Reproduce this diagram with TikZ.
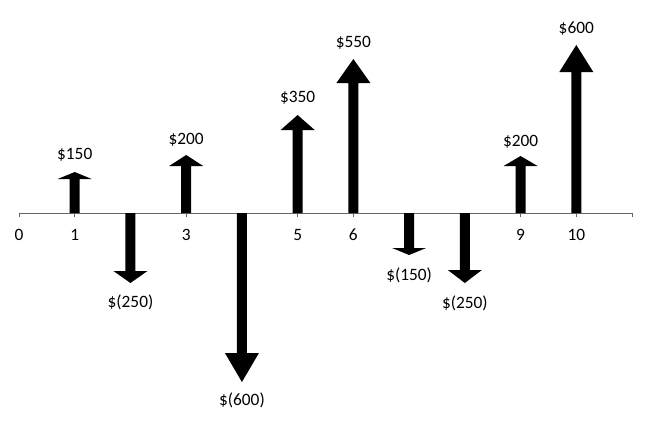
\documentclass[tikz,border=0pt]{standalone}
\usepackage{fontspec}
\setmainfont{Carlito}
\begin{document}
\begin{tikzpicture}[x=0.75pt,y=-0.75pt,
  axisline/.style={draw=gray!80!black,line width=0.75pt},
  flow/.style={fill=black},
  lbl/.style={inner sep=0pt,font=\fontsize{13pt}{15pt}\selectfont}]
\useasboundingbox[fill=white] (0,0) rectangle (652,440);
% axis
\draw[axisline] (19,213) coordinate (a0) -- (632,213) coordinate (a11);
\foreach \i in {0,...,11}{
  \draw[axisline] ({19+55.73*\i},213) -- ({19+55.73*\i},217);
}
% axis labels
\foreach \i in {0,1,3,5,6,9,10}{
  \node[lbl] (t\i) at ({19+55.73*\i},235) {\i};
}
% arrows: index / tip y / head height
\foreach \i/\tip/\hh in {1/172/7,2/283/12,3/155/11,4/382/29,5/115/15,6/59/24,7/255/7,8/283/13,9/156/10,10/45/27}{
  \pgfmathsetmacro{\px}{19+55.73*\i}
  \pgfmathsetmacro{\bs}{\tip<213 ? \tip+\hh : \tip-\hh}
  \fill[flow] (\px-5,213) -- (\px-5,\bs) -- (\px-17,\bs) -- (\px,\tip) -- (\px+17,\bs) -- (\px+5,\bs) -- (\px+5,213) -- cycle;
}
% value labels
\node[lbl] (v1) at ({19+55.73*1},155) {\$150};
\node[lbl] (v2) at ({19+55.73*2},302) {\$(250)};
\node[lbl] (v3) at ({19+55.73*3},140) {\$200};
\node[lbl] (v4) at ({19+55.73*4},400) {\$(600)};
\node[lbl] (v5) at ({19+55.73*5},98) {\$350};
\node[lbl] (v6) at ({19+55.73*6},43) {\$550};
\node[lbl] (v7) at ({19+55.73*7},275) {\$(150)};
\node[lbl] (v8) at ({19+55.73*8},303) {\$(250)};
\node[lbl] (v9) at ({19+55.73*9},142) {\$200};
\node[lbl] (v10) at ({19+55.73*10},29) {\$600};
\end{tikzpicture}
\end{document}
